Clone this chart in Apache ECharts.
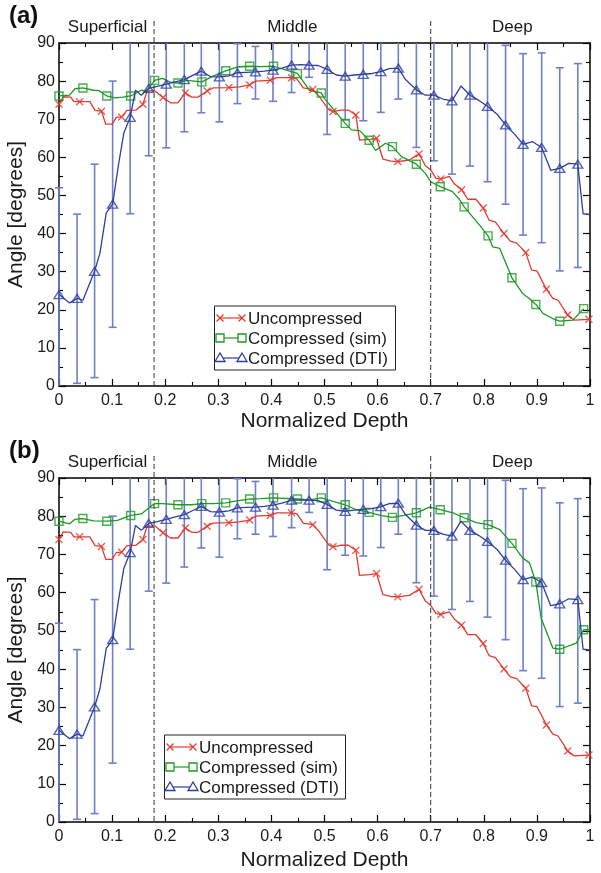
<!DOCTYPE html>
<html><head><meta charset="utf-8">
<script src="https://cdn.jsdelivr.net/npm/echarts@6/dist/echarts.min.js"></script>
<style>html,body{margin:0;padding:0;background:#fff}#c{width:601px;height:873px}</style>
</head><body><div id="c"></div>
<script>
// ---------- DATA ----------
const seriesNames = ['Uncompressed', 'Compressed (sim)', 'Compressed (DTI)'];
const zoneNames = ['Superficial', 'Middle', 'Deep'];
const zoneBounds = [0.179, 0.7];
const panelLabels = ['(a)', '(b)'];

// Uncompressed (same in both panels): marker points + intermediate vertices
const redMarkX = [0,0.039,0.08,0.118,0.158,0.196,0.238,0.279,0.32,0.359,0.398,0.438,0.478,0.516,0.559,0.598,0.638,0.678,0.719,0.758,0.799,0.838,0.879,0.918,0.958,0.998];
const redMarkY = [73.9,74.6,72.1,70.6,73.9,75.7,76.9,77.4,78.3,79.0,80.2,80.9,77.8,72.0,71.1,65.0,58.9,60.9,54.3,51.5,46.7,40.0,35.0,25.4,18.6,17.5];
const redStepX = [0.008,0.022,0.028,0.058,0.068,0.088,0.1,0.108,0.128,0.145,0.166,0.18,0.21,0.224,0.25,0.262,0.29,0.34,0.37,0.41,0.448,0.46,0.49,0.5,0.508,0.53,0.545,0.566,0.585,0.61,0.625,0.66,0.69,0.7,0.71,0.735,0.745,0.77,0.785,0.81,0.822,0.85,0.862,0.89,0.9,0.93,0.94,0.97];
const redStepY = [75.9,75.8,74.6,74.6,72.3,68.7,68.7,70.5,72.3,72.4,77.4,77.5,74.3,74.3,75.8,75.8,78.2,78.5,80.0,80.9,80.6,78.2,76.0,74.0,72.5,72.4,72.4,64.5,64.7,59.5,59.0,59.3,57.8,56.7,54.5,55.0,53.0,49.0,49.0,43.5,43.0,38.0,37.5,30.4,30.2,23.0,22.5,17.3];

// Compressed (sim), panel (a)
const greenMarkX = [0,0.045,0.09,0.135,0.18,0.224,0.269,0.314,0.359,0.404,0.449,0.494,0.539,0.584,0.628,0.673,0.718,0.763,0.808,0.853,0.898,0.943,0.988];
const greenAMarkY = [76.1,78.2,76.1,76.1,80.2,79.5,79.8,82.7,83.9,83.9,82.0,76.9,68.9,64.5,62.8,58.2,52.3,47.0,39.4,28.4,21.4,17.0,20.3];
const greenAStepX = [0.02,0.03,0.065,0.075,0.105,0.12,0.155,0.165,0.195,0.21,0.24,0.255,0.29,0.335,0.38,0.425,0.472,0.5,0.551,0.566,0.596,0.615,0.645,0.69,0.7,0.741,0.754,0.792,0.817,0.83,0.873,0.885,0.912,0.93,0.968];
const greenAStepY = [76.3,78.0,77.6,77.5,75.6,75.8,77.6,77.3,80.7,79.7,80.2,80.0,81.3,83.7,83.8,83.0,77.6,75.4,67.2,67.0,61.8,63.7,60.2,55.8,53.6,51.0,49.0,42.2,36.5,36.1,24.3,23.0,19.0,17.7,17.3];

// Compressed (sim), panel (b)
const greenBMarkY = [78.7,79.4,78.7,80.2,83.3,83.0,83.3,83.5,84.5,84.8,84.5,84.8,83.0,81.0,79.7,80.9,81.7,79.6,77.8,72.9,62.8,45.2,50.3];
const greenBStepX = [0.02,0.03,0.065,0.11,0.155,0.195,0.25,0.29,0.335,0.38,0.472,0.516,0.56,0.605,0.65,0.698,0.742,0.786,0.83,0.873,0.886,0.908,0.93,0.974,1.0];
const greenBStepY = [78.0,79.2,78.8,78.9,80.6,83.3,83.0,83.3,84.0,84.6,84.3,83.9,81.7,80.2,80.2,82.4,80.9,78.3,76.5,69.1,67.8,53.3,45.5,46.8,50.3];

// Compressed (DTI), same in both panels, with error bars
const blueMarkX = [0,0.034,0.067,0.101,0.134,0.169,0.202,0.236,0.268,0.302,0.336,0.37,0.403,0.438,0.471,0.505,0.539,0.573,0.606,0.639,0.673,0.706,0.74,0.774,0.807,0.841,0.874,0.909,0.943,0.977];
const blueMarkY = [24.0,23.0,30.1,47.7,70.5,78.1,79.2,80.4,82.6,81.1,82.2,82.4,82.9,84.2,84.2,83.1,81.3,81.8,82.5,83.4,77.7,76.3,74.8,76.3,73.4,68.5,63.4,62.6,57.1,58.2];
const blueLow  = [-3,0.7,2.2,15.4,45.2,60.4,62.5,66.7,71.7,69.3,74.1,75.3,74.7,77.0,81.0,66.0,69.8,69.6,71.8,75.3,62.6,59.1,55.6,57.7,53.6,47.7,39.6,37.6,30.2,31.1];
const blueHigh = [52.0,45.1,58.2,80.0,98,96,96,95,93,93,89.8,89.1,94,92,92,92,93,93,93,91,93,93,94,95,93,89.4,87.2,87.4,83.5,84.6];
const blueStepX = [0.02,0.045,0.077,0.089,0.112,0.122,0.144,0.155,0.185,0.219,0.252,0.285,0.32,0.353,0.387,0.42,0.455,0.488,0.522,0.556,0.59,0.622,0.652,0.69,0.723,0.757,0.79,0.825,0.858,0.892,0.926,0.96,0.987,1.0];
const blueStepY = [21.8,22.5,34.8,45.4,58.0,66.3,77.6,76.3,78.6,79.8,81.5,81.2,81.4,82.3,82.6,83.4,84.3,84.1,81.6,81.6,82.0,83.3,80.5,76.3,75.3,78.7,75.0,71.3,66.1,64.1,56.6,58.4,45.2,45.0];

const X_MIN = 0, X_MAX = 1, X_INT = 0.1;
const Y_MIN = 0, Y_MAX = 90, Y_INT = 10;

// ---------- STYLE ----------
const RED = '#e23a2e', GREEN = '#1c9a22', BLUE = '#2c3f9f', BAR = '#6d80c9';
const FONT = 'Liberation Sans, Arial, Helvetica, sans-serif';
const grids = [
  {left: 59, top: 43, width: 531, height: 343, outerBoundsMode: 'none', containLabel: false},
  {left: 59, top: 478, width: 531, height: 344, outerBoundsMode: 'none', containLabel: false}
];

function zip(xs, ys) { return xs.map((x, i) => [x, ys[i]]); }
function merged(mx, my, sx, sy) {
  return zip(mx, my).concat(zip(sx, sy)).sort((a, b) => a[0] - b[0]);
}
const X_PATH = 'path://M0,0L10,10M10,0L0,10';

function xAxis(g, pos, main) {
  return {
    type: 'value', gridIndex: g, position: pos, min: X_MIN, max: X_MAX, interval: X_INT,
    axisLine: {show: true, onZero: false, lineStyle: {color: '#000', width: 1.5}},
    axisTick: {show: true, inside: true, length: 7, lineStyle: {color: '#000', width: 1.2}},
    minorTick: {show: true, splitNumber: 2, length: 4, lineStyle: {color: '#000', width: 1.1}},
    axisLabel: {show: main, color: '#1a1a1a', fontSize: 16, fontFamily: FONT, margin: 7},
    splitLine: {show: false},
    name: main ? 'Normalized Depth' : '', nameLocation: 'middle', nameGap: g === 0 ? 25 : 28,
    nameTextStyle: {color: '#1a1a1a', fontSize: 21, fontFamily: FONT}
  };
}
function yAxis(g, pos, main) {
  return {
    type: 'value', gridIndex: g, position: pos, min: Y_MIN, max: Y_MAX, interval: Y_INT,
    axisLine: {show: true, onZero: false, lineStyle: {color: '#000', width: 1.5}},
    axisTick: {show: true, inside: true, length: 7, lineStyle: {color: '#000', width: 1.2}},
    minorTick: {show: true, splitNumber: 2, length: 4, lineStyle: {color: '#000', width: 1.1}},
    axisLabel: {show: main, color: '#1a1a1a', fontSize: 16, fontFamily: FONT, margin: 4},
    splitLine: {show: false},
    name: main ? 'Angle [degrees]' : '', nameLocation: 'middle', nameGap: 30,
    nameTextStyle: {color: '#1a1a1a', fontSize: 21, fontFamily: FONT}
  };
}

function panelSeries(p, greenY, greenSX, greenSY) {
  const xi = p * 2, yi = p * 2;
  const common = {xAxisIndex: xi, yAxisIndex: yi, animation: false, silent: true};
  return [
    Object.assign({type: 'custom', z: 1,
      data: blueMarkX.map((x, i) => [x, blueLow[i], blueHigh[i]]),
      encode: {x: 0, y: [1, 2]},
      renderItem: function (params, api) {
        const x = api.value(0);
        const lo = Math.max(api.value(1), Y_MIN), hi = Math.min(api.value(2), Y_MAX);
        const pL = api.coord([x, lo]), pH = api.coord([x, hi]);
        const st = {stroke: BAR, lineWidth: 1.6, fill: null};
        const ch = [{type: 'line', shape: {x1: pL[0], y1: pL[1], x2: pH[0], y2: pH[1]}, style: st}];
        if (api.value(1) >= Y_MIN) ch.push({type: 'line', shape: {x1: pL[0] - 4, y1: pL[1], x2: pL[0] + 4, y2: pL[1]}, style: st});
        if (api.value(2) <= Y_MAX) ch.push({type: 'line', shape: {x1: pH[0] - 4, y1: pH[1], x2: pH[0] + 4, y2: pH[1]}, style: st});
        return {type: 'group', children: ch};
      }}, common),
    Object.assign({type: 'line', z: 2, data: merged(redMarkX, redMarkY, redStepX, redStepY),
      symbol: 'none', lineStyle: {color: RED, width: 1.3}}, common),
    Object.assign({type: 'scatter', z: 3, data: zip(redMarkX, redMarkY), symbol: X_PATH, symbolSize: 7,
      itemStyle: {color: 'none', borderColor: RED, borderWidth: 1.4}}, common),
    Object.assign({type: 'line', z: 2, data: merged(greenMarkX, greenY, greenSX, greenSY),
      symbol: 'none', smooth: false, lineStyle: {color: GREEN, width: 1.3}}, common),
    Object.assign({type: 'scatter', z: 3, data: zip(greenMarkX, greenY), symbol: 'rect', symbolSize: 8,
      itemStyle: {color: 'rgba(0,0,0,0)', borderColor: GREEN, borderWidth: 1.4}}, common),
    Object.assign({type: 'line', z: 4, data: merged(blueMarkX, blueMarkY, blueStepX, blueStepY),
      symbol: 'none', lineStyle: {color: BLUE, width: 1.3}}, common),
    Object.assign({type: 'scatter', z: 5, data: zip(blueMarkX, blueMarkY), symbol: 'triangle', symbolSize: [10, 8],
      itemStyle: {color: 'rgba(0,0,0,0)', borderColor: BLUE, borderWidth: 1.4}}, common)
  ];
}

const chart = echarts.init(document.getElementById('c'), null, {renderer: 'canvas'});
chart.setOption({
  animation: false,
  backgroundColor: '#fff',
  grid: grids,
  xAxis: [xAxis(0, 'bottom', true), xAxis(0, 'top', false), xAxis(1, 'bottom', true), xAxis(1, 'top', false)],
  yAxis: [yAxis(0, 'left', true), yAxis(0, 'right', false), yAxis(1, 'left', true), yAxis(1, 'right', false)],
  series: panelSeries(0, greenAMarkY, greenAStepX, greenAStepY)
    .concat(panelSeries(1, greenBMarkY, greenBStepX, greenBStepY))
});

// ---------- annotations (zone lines, zone labels, panel labels, legends) ----------
const graphics = [];
const legendBoxes = [{left: 214.5, top: 306, w: 181, h: 64, lx0: 220, lx1: 242, tx: 248},
                     {left: 164.5, top: 735, w: 181, h: 64, lx0: 170, lx1: 193, tx: 199}];
const colors = [RED, GREEN, BLUE];
[0, 1].forEach(p => {
  const fi = {xAxisIndex: p * 2, yAxisIndex: p * 2};
  const yTop = chart.convertToPixel(fi, [0, Y_MAX])[1];
  const yBot = chart.convertToPixel(fi, [0, Y_MIN])[1];
  zoneBounds.forEach(b => {
    const x = chart.convertToPixel(fi, [b, 0])[0];
    graphics.push({type: 'line', z: 10, shape: {x1: x, y1: yTop - 22, x2: x, y2: yBot},
      style: {stroke: '#333', lineWidth: 1, lineDash: [5, 3]}});
  });
  const xa = chart.convertToPixel(fi, [0, 0])[0];
  const xb = chart.convertToPixel(fi, [zoneBounds[0], 0])[0];
  const xc = chart.convertToPixel(fi, [zoneBounds[1], 0])[0];
  const xd = chart.convertToPixel(fi, [1, 0])[0];
  const zc = [(xa + xb) / 2 + 1, (xb + xc) / 2, (xc + xd) / 2 + 2];
  zoneNames.forEach((n, i) => graphics.push({type: 'text', z: 10, x: zc[i], y: yTop - 16,
    style: {text: n, fill: '#1a1a1a', font: '17px ' + FONT, align: 'center', verticalAlign: 'middle'}}));
  graphics.push({type: 'text', z: 10, x: 9, y: yTop - 27,
    style: {text: panelLabels[p], fill: '#111', font: 'bold 24px ' + FONT, align: 'left', verticalAlign: 'middle'}});

  const L = legendBoxes[p];
  graphics.push({type: 'rect', z: 20, shape: {x: L.left, y: L.top, width: L.w, height: L.h},
    style: {fill: '#fff', stroke: '#222', lineWidth: 1}});
  seriesNames.forEach((n, i) => {
    const y = L.top + 12 + i * 20;
    const c = colors[i];
    graphics.push({type: 'line', z: 21, shape: {x1: L.lx0, y1: y, x2: L.lx1, y2: y}, style: {stroke: c, lineWidth: 1.2}});
    [L.lx0, L.lx1].forEach(mx => {
      if (i === 0) {
        graphics.push({type: 'line', z: 22, shape: {x1: mx - 3.5, y1: y - 3.5, x2: mx + 3.5, y2: y + 3.5}, style: {stroke: c, lineWidth: 1.3}});
        graphics.push({type: 'line', z: 22, shape: {x1: mx - 3.5, y1: y + 3.5, x2: mx + 3.5, y2: y - 3.5}, style: {stroke: c, lineWidth: 1.3}});
      } else if (i === 1) {
        graphics.push({type: 'rect', z: 22, shape: {x: mx - 4, y: y - 4, width: 8, height: 8}, style: {fill: '#fff', stroke: c, lineWidth: 1.3}});
      } else {
        graphics.push({type: 'polygon', z: 22, shape: {points: [[mx, y - 5], [mx + 5, y + 3.5], [mx - 5, y + 3.5]]}, style: {fill: '#fff', stroke: c, lineWidth: 1.3}});
      }
    });
    graphics.push({type: 'text', z: 22, x: L.tx, y: y + 1,
      style: {text: n, fill: '#1a1a1a', font: '17px ' + FONT, align: 'left', verticalAlign: 'middle'}});
  });
});
chart.setOption({graphic: graphics});
</script>
</body></html>
